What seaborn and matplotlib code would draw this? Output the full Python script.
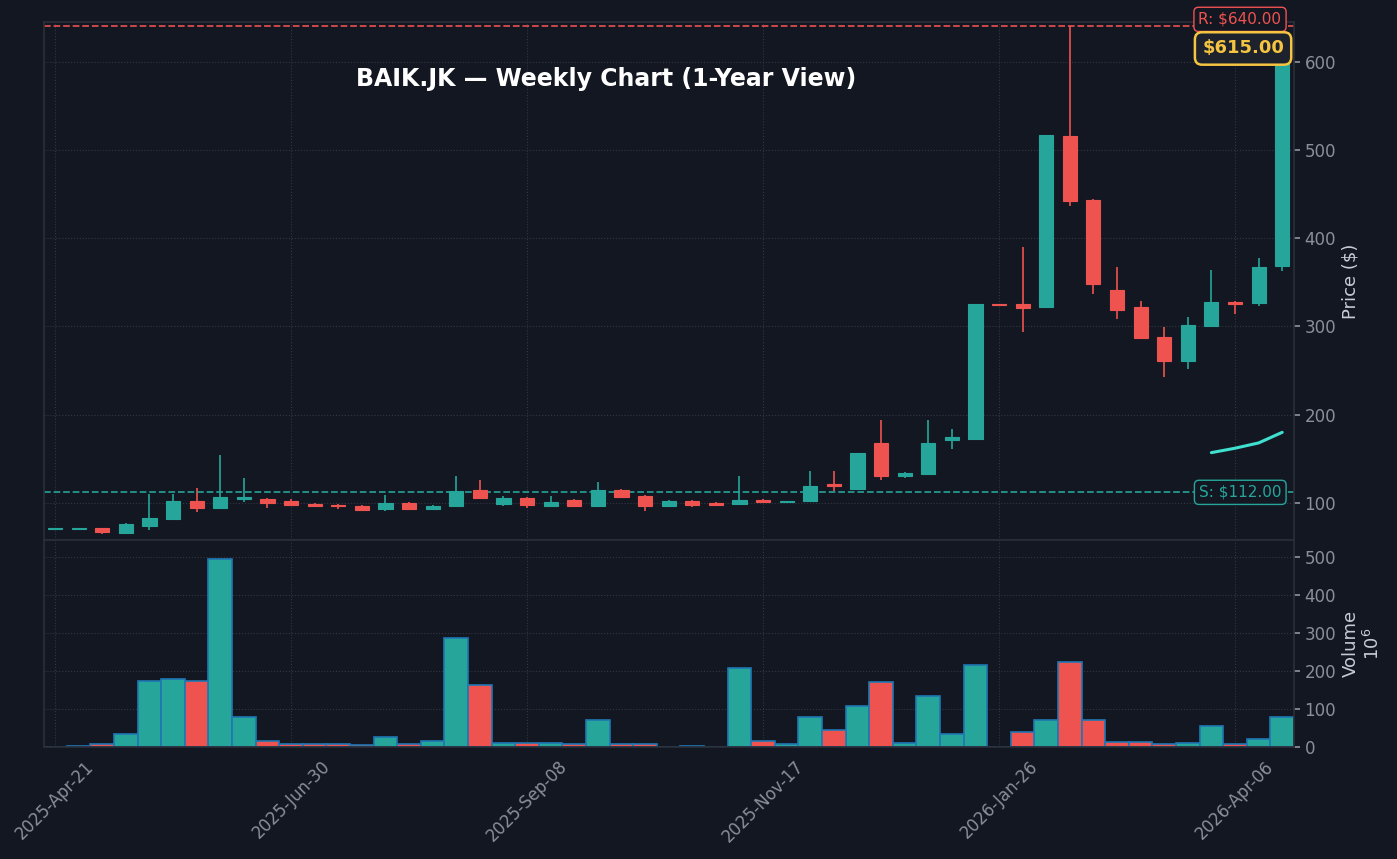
import numpy as np
import pandas as pd
import matplotlib
matplotlib.use("Agg")
import matplotlib.pyplot as plt
import seaborn as sns

opens  = [70.5,70.5,71.5,66,74,82,102,94,105,105,102,99,98,97,93,100,93,97,115,99,106,97,103,96,115,108,97,102,100,99,103,101,
          102,121,115.6,168,130,133,171,173,325,325,322,516,443,341,322,288,261,301,328,327,369]
closes = [70.5,70.5,67,76,83,102,94,107,105,100,98,97,96,92,100,93,97,114,106,106,98,101,96,115,107,96,102,98,98,103,101,101,
          119,119,156.5,130,134,168,175,325,324,321,516.5,442,348,319,287,261,302,328,326,367,615]
highs  = [71,71,72,77,110,110,117,154,128,106,104,100,99,98,109,101,98,131,126,108,107,108,104,124,116,109,103,103,101,130,104,102,
          136,136,157,194,135,194,184,326,326,390,517,641,444,367,329,299,311,364,329,377,616]
lows   = [70,70,65,65,69,81,90,93,101,94,97,96,93,91,91,92,92,96,104,97,94,96,95,95,106,91,96,95,97,98,100,100,
          101,114,115,126,128,132,161,171,323,294,321,437,337,309,286,243,252,299,314,323,363]
volume = [1,3.5,7,35,175,178,175,495,80,17,9,9,9,6,27,9,17,286,162,11,11,11,9,72,9,9,1,3.5,1,209,17,9,
          80,46,109,170,11,135,35,215,0,40,70,223,72,14,14,9,11,54,9,22,80]
ma_idx  = [49,50,51,52]
ma_vals = [157,162,168,180]
tick_idx = [0,10,20,30,40,50]
tick_labels = ["2025-Apr-21","2025-Jun-30","2025-Sep-08","2025-Nov-17","2026-Jan-26","2026-Apr-06"]
support, resistance, last_price = 112.0, 640.0, 615.0

BG = "#131722"
UP, DN = "#26a69a", "#ef5350"
GRID = "#2a2e39"
TXT = "#8a8f9c"

sns.set_theme(style="dark")
plt.rcParams['font.family'] = ['DejaVu Sans']

df = pd.DataFrame({"i": np.arange(len(opens)), "o": opens, "c": closes, "h": highs, "l": lows, "v": volume})
df["dir"] = np.where(df.c >= df.o, "up", "down")

fig = plt.figure(figsize=(13.97, 8.59), dpi=100, facecolor=BG)
W, H = 1397, 859
L, R = 44/W, 1294/W
ax = fig.add_axes([L, 1-540/H, R-L, (540-22)/H])
axv = fig.add_axes([L, 1-747/H, R-L, (747-540)/H], sharex=ax)
for a in (ax, axv):
    a.set_facecolor(BG)
    for s in a.spines.values():
        s.set_color(GRID)
    a.grid(True, color="#3a3f4b", linestyle=":", linewidth=0.8, alpha=0.8)
    a.yaxis.tick_right()
    a.yaxis.set_label_position("right")
    a.tick_params(colors=TXT, labelsize=12, length=4)

# candles
cols = [UP if d == "up" else DN for d in df.dir]
ax.vlines(df.i, df.l, df.h, colors=cols, linewidth=1.2, zorder=2)
body = np.maximum(np.abs(df.c - df.o), 1.2)
ax.bar(df.i, body, bottom=np.minimum(df.o, df.c), width=0.6, color=cols, edgecolor=cols, linewidth=0.8, zorder=3)
sns.lineplot(x=ma_idx, y=ma_vals, ax=ax, color="#40e0d0", linewidth=2.2, zorder=4)

ax.axhline(support, color=UP, linestyle="--", linewidth=1.3, alpha=0.9)
ax.axhline(resistance, color=DN, linestyle="--", linewidth=1.3, alpha=0.9)
ax.set_ylim(58, 645)
ax.set_xlim(-0.47, 52.5)
ax.set_yticks([100, 200, 300, 400, 500, 600])
ax.set_ylabel("Price ($)", color="#c8ccd4", fontsize=13)
ax.tick_params(axis="x", labelbottom=False, length=0)
ax.text(0.45, 0.89, "BAIK.JK — Weekly Chart (1-Year View)", transform=ax.transAxes,
        ha="center", va="center", color="white", fontsize=17, fontweight="bold")
ax.text(0.99, support, "S: $112.00", transform=ax.get_yaxis_transform(), ha="right", va="center",
        color=UP, fontsize=11, bbox=dict(boxstyle="round,pad=0.3", fc=BG, ec=UP, lw=1))
ax.text(0.99, resistance + 8, "R: $640.00", transform=ax.get_yaxis_transform(), ha="right", va="center",
        color=DN, fontsize=11, bbox=dict(boxstyle="round,pad=0.3", fc=BG, ec=DN, lw=1))
ax.text(0.992, last_price, "$615.00", transform=ax.get_yaxis_transform(), ha="right", va="center",
        color="#f5c542", fontsize=13, fontweight="bold",
        bbox=dict(boxstyle="round,pad=0.4", fc="#1e222d", ec="#f5c542", lw=1.8))

# volume
sns.barplot(data=df, x="i", y="v", hue="dir", palette={"up": UP, "down": DN}, dodge=False,
            native_scale=True, width=1.0, saturation=1, edgecolor="#1f77b4", linewidth=1.2,
            legend=False, ax=axv)
axv.set_ylim(0, 545)
axv.set_yticks([0, 100, 200, 300, 400, 500])
axv.set_xlim(-0.47, 52.5)
axv.set_xticks(tick_idx)
axv.set_xticklabels(tick_labels, rotation=45, ha="center")
axv.set_xlabel("")
axv.set_ylabel("Volume\n$10^6$", color="#c8ccd4", fontsize=13)
axv.tick_params(axis="x", colors=TXT, labelsize=12)

fig.savefig("out.png", dpi=100, facecolor=BG)
